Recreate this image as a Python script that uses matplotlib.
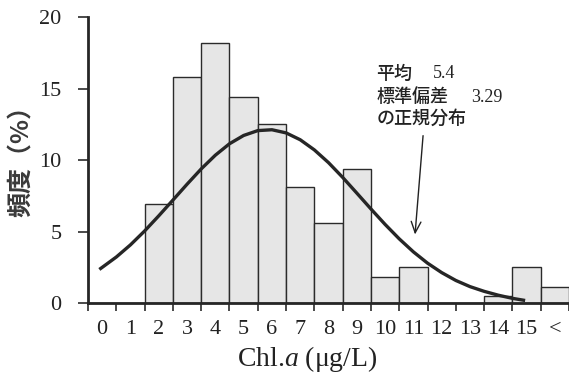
import numpy as np
import matplotlib.pyplot as plt

plt.rcParams['mathtext.fontset'] = 'custom'
plt.rcParams['mathtext.rm'] = 'Liberation Serif'
plt.rcParams['mathtext.it'] = 'Liberation Serif:italic'

# histogram bins (Chl.a, ug/L) and frequencies (%)
bin_labels = ['0', '1', '2', '3', '4', '5', '6', '7', '8', '9',
              '10', '11', '12', '13', '14', '15', '<']
freq = [0, 0, 6.9, 15.8, 18.2, 14.4, 12.5, 8.1, 5.6, 9.4,
        1.8, 2.5, 0, 0, 0.5, 2.5, 1.1]

# normal curve (position on the bin axis, %)
curve_x = [0.4, 1, 1.5, 2, 2.5, 3, 3.5, 4, 4.5, 5, 5.5, 6, 6.5, 7, 7.5, 8,
           8.5, 9, 9.5, 10, 10.5, 11, 11.5, 12, 12.5, 13, 13.5, 14, 14.5,
           15, 15.45]
curve_y = [2.35, 3.22, 4.07, 5.04, 6.10, 7.20, 8.31, 9.38, 10.34, 11.14,
           11.72, 12.06, 12.12, 11.90, 11.42, 10.71, 9.82, 8.79, 7.69, 6.58,
           5.50, 4.49, 3.58, 2.79, 2.13, 1.58, 1.15, 0.82, 0.55, 0.33, 0.18]

cjk = ['Noto Sans CJK JP', 'DejaVu Sans']

fig = plt.figure(figsize=(5.69, 3.76), dpi=100)
ax = fig.add_axes([0.1547, 0.194, 0.8453, 0.7606])

pos = np.arange(len(freq)) + 0.5
ax.bar(pos, freq, width=1.0, color='#e6e6e6', edgecolor='#2b2b2b',
       linewidth=1.0, zorder=2)
ax.plot(curve_x, curve_y, color='#262626', linewidth=2.4,
        solid_capstyle='butt', zorder=3)

ax.set_xlim(0, len(freq))
ax.set_ylim(0, 20)
ax.set_yticks([0, 5, 10, 15, 20])
ax.set_xticks(np.arange(len(freq) + 1))
ax.set_xticklabels([])
ax.set_xticks(pos, minor=True)
ax.set_xticklabels(bin_labels, minor=True, family='Liberation Serif',
                   fontsize=16, color='#222222')
ax.tick_params(axis='x', which='major', direction='out', length=6,
               width=1.2, color='#2b2b2b')
ax.tick_params(axis='x', which='minor', length=0, pad=12)
ax.tick_params(axis='y', direction='out', length=7, width=1.2,
               color='#2b2b2b', pad=12, labelsize=16, labelcolor='#222222')
for lab in ax.get_yticklabels():
    lab.set_family('Liberation Serif')

for s in ['top', 'right']:
    ax.spines[s].set_visible(False)
for s in ['left', 'bottom']:
    ax.spines[s].set_linewidth(2.0)
    ax.spines[s].set_color('#262626')

ax.set_xlabel('Chl.$\\it{a}$ (μg/L)', family='Liberation Serif',
              fontsize=20, color='#222222', va='center')
ax.xaxis.set_label_coords(0.455, -0.196)
ax.set_ylabel('頻度（%）', family=cjk, fontsize=18, fontweight='bold',
              color='#3a3a3a', va='center')
ax.yaxis.set_label_coords(-0.137, 0.517)

ax.text(10.2, 16.05, '平均', family=cjk, fontsize=13, va='center',
        fontweight='medium', color='#222222')
ax.text(12.2, 16.05, '5.4', family='Liberation Serif', fontsize=13,
        va='center', color='#222222')
ax.text(10.2, 14.4, '標準偏差', family=cjk, fontsize=13, va='center',
        fontweight='medium', color='#222222')
ax.text(13.55, 14.4, '3.29', family='Liberation Serif', fontsize=13,
        va='center', color='#222222')
ax.text(10.2, 12.85, 'の正規分布', family=cjk, fontsize=13, va='center',
        fontweight='medium', color='#222222')
ax.annotate('', xy=(11.55, 4.6), xytext=(11.85, 11.9),
            arrowprops=dict(arrowstyle='->,head_length=0.8,head_width=0.35',
                            color='#222222', lw=1.0))

fig.savefig('out.png', dpi=100)
